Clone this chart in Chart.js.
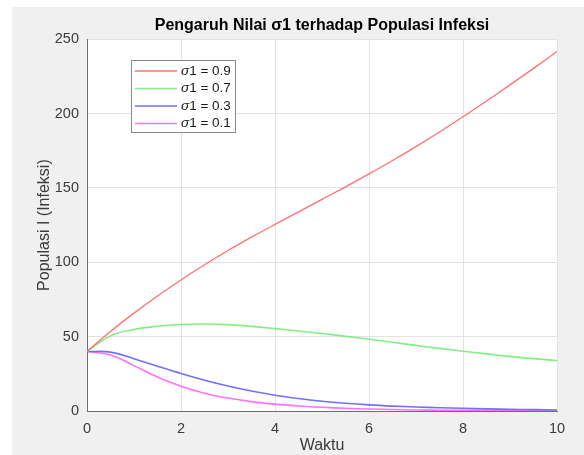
<!DOCTYPE html>
<html>
<head>
<meta charset="utf-8">
<script src="https://cdn.jsdelivr.net/npm/chart.js@4"></script>
<style>
  html, body { margin: 0; padding: 0; background: #ffffff; }
  #wrap { width: 584px; height: 455px; }
</style>
</head>
<body>
<div id="wrap"><canvas id="myChart" width="584" height="455"></canvas></div>
<script>
'use strict';

// data
const waktu = [0, 0.5, 1, 1.5, 2, 2.5, 3, 3.5, 4, 4.5, 5, 5.5, 6, 6.5, 7, 7.5, 8, 8.5, 9, 9.5, 10];
const sigma09 = [40, 53.5, 65.8, 77.3, 88.1, 98.3, 107.9, 116.9, 125.5, 133.9, 142.3, 150.7, 159.4, 168.4, 177.8, 187.6, 197.8, 208.4, 219.3, 230.4, 241.7];
const sigma07 = [40, 50.5, 54.8, 57, 58.2, 58.5, 58.1, 56.9, 55.4, 53.8, 52.1, 50.2, 48.2, 46.2, 44.1, 42.1, 40.2, 38.4, 36.7, 35.2, 33.9];
const sigma03 = [40, 39.6, 35.2, 30.1, 25.2, 20.7, 16.8, 13.4, 10.6, 8.4, 6.6, 5.2, 4.1, 3.3, 2.7, 2.2, 1.8, 1.4, 1.1, 0.9, 0.7];
const sigma01 = [40, 37.6, 30.5, 22.8, 16.6, 12, 8.7, 6.3, 4.6, 3.4, 2.5, 1.8, 1.3, 1, 0.7, 0.5, 0.4, 0.3, 0.2, 0.15, 0.1];
const seriesLabels = ['σ1 = 0.9', 'σ1 = 0.7', 'σ1 = 0.3', 'σ1 = 0.1'];
const seriesColors = ['#ff7070', '#80f080', '#7070ff', '#ff70ff'];
const xTicks = [0, 2, 4, 6, 8, 10];
const yTicks = [0, 50, 100, 150, 200, 250];

const FONT = 'Liberation Sans, Arial, Helvetica, sans-serif';

function toPoints(ys) {
  return ys.map(function(y, i) { return { x: waktu[i], y: y }; });
}

const allSeries = [sigma09, sigma07, sigma03, sigma01];

const data = {
  datasets: allSeries.map(function(s, i) {
    return {
      label: seriesLabels[i],
      data: toPoints(s),
      borderColor: seriesColors[i],
      backgroundColor: seriesColors[i],
      borderWidth: i === 0 ? 1.3 : 1.6,
      pointRadius: 0,
      tension: 0.4
    };
  })
};

// figure background: white margin, grey figure, white axes
const bgPlugin = {
  id: 'bg',
  beforeDraw: function(chart) {
    const c = chart.ctx;
    const a = chart.chartArea;
    c.save();
    c.fillStyle = '#ffffff';
    c.fillRect(0, 0, chart.width, chart.height);
    c.fillStyle = '#f0f0f0';
    c.fillRect(12, 7, chart.width - 12, chart.height - 7);
    c.fillStyle = '#ffffff';
    c.fillRect(a.left, a.top, a.right - a.left, a.bottom - a.top);
    c.restore();
  }
};

// legend box inside the axes, like matlab
const boxLegend = {
  id: 'boxLegend',
  afterDatasetsDraw: function(chart) {
    const c = chart.ctx;
    const x0 = 131, y0 = 60, w = 104, h = 72;
    c.save();
    c.fillStyle = '#ffffff';
    c.fillRect(x0, y0, w, h);
    c.strokeStyle = '#8c8c8c';
    c.lineWidth = 1;
    c.strokeRect(x0 + 0.5, y0 + 0.5, w, h);
    chart.data.datasets.forEach(function(ds, i) {
      const y = 71 + i * 17.5;
      c.strokeStyle = ds.borderColor;
      c.lineWidth = 1.4;
      c.beginPath();
      c.moveTo(135, y);
      c.lineTo(177, y);
      c.stroke();
      c.fillStyle = '#1a1a1a';
      c.textBaseline = 'middle';
      c.font = 'italic 13.5px ' + FONT;
      c.fillText(ds.label.charAt(0), 181, y);
      const sw = c.measureText(ds.label.charAt(0)).width;
      c.font = '13.5px ' + FONT;
      c.fillText(ds.label.slice(1), 181 + sw, y);
    });
    c.restore();
  }
};

const options = {
  responsive: false,
  animation: false,
  layout: {
    padding: { top: 16, left: 0, right: 27, bottom: 0 }
  },
  plugins: {
    legend: { display: false },
    tooltip: { enabled: false },
    title: {
      display: true,
      fullSize: false,
      text: 'Pengaruh Nilai σ1 terhadap Populasi Infeksi',
      color: '#000000',
      font: { family: FONT, size: 16, weight: 'bold', lineHeight: 1.2 },
      padding: { top: 0, bottom: 4 }
    }
  },
  scales: {
    x: {
      type: 'linear',
      min: 0,
      max: 10,
      afterFit: function(scale) { scale.height = 44; },
      afterBuildTicks: function(scale) {
        scale.ticks = xTicks.map(function(v) { return { value: v }; });
      },
      ticks: {
        color: '#3c3c3c',
        padding: 9,
        maxRotation: 0,
        font: { family: FONT, size: 14.5 }
      },
      grid: { color: '#e3e3e3', drawTicks: false },
      border: { display: true, color: '#6e6e6e' },
      title: {
        display: true,
        text: 'Waktu',
        color: '#3c3c3c',
        font: { family: FONT, size: 16 },
        padding: { top: 0, bottom: 0 }
      }
    },
    y: {
      min: 0,
      max: 250,
      afterFit: function(scale) { scale.width = 87; },
      afterBuildTicks: function(scale) {
        scale.ticks = yTicks.map(function(v) { return { value: v }; });
      },
      ticks: {
        color: '#3c3c3c',
        padding: 8,
        font: { family: FONT, size: 14.5 }
      },
      grid: { color: '#e3e3e3', drawTicks: false },
      border: { display: true, color: '#6e6e6e' },
      title: {
        display: true,
        text: 'Populasi I (Infeksi)',
        color: '#3c3c3c',
        font: { family: FONT, size: 16 },
        padding: { top: 35, bottom: 0 }
      }
    }
  }
};

new Chart(document.getElementById('myChart').getContext('2d'), {
  type: 'line',
  data: data,
  options: options,
  plugins: [bgPlugin, boxLegend]
});
</script>
</body>
</html>
